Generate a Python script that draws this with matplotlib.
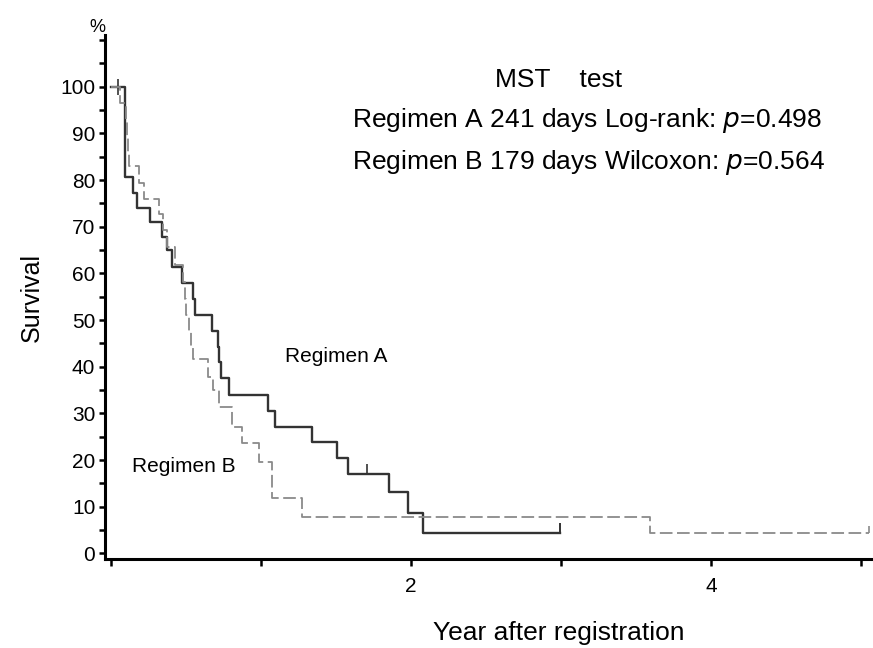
import numpy as np
import matplotlib.pyplot as plt
from matplotlib.ticker import MultipleLocator, FixedLocator

plt.rcParams['font.family'] = ['Liberation Sans', 'DejaVu Sans']

# Regimen A (solid) - time in years, survival in %
a_time = [0, 0.093, 0.149, 0.173, 0.263, 0.340, 0.371, 0.407, 0.473, 0.545,
          0.563, 0.670, 0.715, 0.723, 0.731, 0.785, 1.047, 1.090, 1.338,
          1.509, 1.577, 1.855, 1.982, 2.082, 2.993]
a_surv = [100, 80.7, 77.3, 74.1, 70.9, 67.8, 65.0, 61.3, 57.9, 54.4,
          51.0, 47.7, 44.3, 40.9, 37.5, 33.9, 30.6, 27.1, 23.8,
          20.5, 17.1, 13.2, 8.6, 4.4, 4.4]
a_cens_t = [0.049, 1.705]
a_cens_s = [100, 17.1]

# Regimen B (dashed)
b_time = [0, 0.060, 0.100, 0.107, 0.113, 0.120, 0.189, 0.220, 0.317, 0.345,
          0.370, 0.427, 0.478, 0.490, 0.500, 0.520, 0.535, 0.545, 0.649,
          0.680, 0.720, 0.804, 0.871, 0.989, 1.070, 1.274, 3.593, 5.050]
b_surv = [100, 96.4, 92.9, 89.3, 85.7, 82.9, 79.4, 75.9, 72.7, 69.3,
          65.7, 61.8, 58.2, 54.6, 51.0, 47.5, 44.3, 41.6, 37.8,
          35.0, 31.4, 27.1, 23.6, 19.6, 11.8, 7.8, 4.3, 4.3]

x_ticks = [0, 1, 2, 3, 4, 5]
x_labels = ['', '', '2', '', '4', '']
y_ticks = list(range(0, 101, 10))

fig = plt.figure(figsize=(8.73, 6.48), dpi=100)
ax = fig.add_axes([0.1203, 0.1373, 0.8797, 0.8086])

col_a = '#333333'
col_b = '#8a8a8a'

ax.step(a_time, a_surv, where='post', color=col_a, lw=1.7)
ax.plot(a_time[-1], a_surv[-1], marker=2, color=col_a, ms=7, mew=1.4)
ax.plot(a_cens_t[1], a_cens_s[1], marker=2, color=col_a, ms=7, mew=1.2)
ax.plot(a_cens_t[0], a_cens_s[0], marker='|', color=col_a, ms=11, mew=1.2)

ax.step(b_time, b_surv, where='post', color=col_b, lw=1.3, dashes=(7, 2.5))
ax.plot(b_time[-1], b_surv[-1], marker=2, color=col_b, ms=5, mew=1.2)

ax.set_xlim(-0.04, 5.08)
ax.set_ylim(-1.22, 111.06)

for s in ['top', 'right']:
    ax.spines[s].set_visible(False)
for s in ['left', 'bottom']:
    ax.spines[s].set_linewidth(2.2)

ax.xaxis.set_major_locator(FixedLocator(x_ticks))
ax.set_xticklabels(x_labels)
ax.set_yticks(y_ticks)
ax.yaxis.set_minor_locator(MultipleLocator(5))
ax.tick_params(axis='both', which='both', direction='out', length=4, width=1.8,
               labelsize=15, colors='black')
ax.tick_params(axis='x', length=5, pad=8)
ax.tick_params(axis='y', pad=3)

ax.set_ylabel('Survival', fontsize=18, labelpad=12)
fig.text(559 / 873, 1 - 633 / 648, 'Year after registration', fontsize=19,
         ha='center', va='center')
fig.text(97 / 873, 1 - 27 / 648, '%', fontsize=13, ha='center', va='center')

ax.text(2.56, 101.4, 'MST    test', fontsize=19, va='center', ha='left')
ax.text(1.607, 92.8, 'Regimen A 241 days Log-rank: $\\it{p}$=0.498', fontsize=19,
        va='center', ha='left')
ax.text(1.607, 83.8, 'Regimen B 179 days Wilcoxon: $\\it{p}$=0.564', fontsize=19,
        va='center', ha='left')

ax.text(1.16, 42.1, 'Regimen A', fontsize=15, va='center', ha='left')
ax.text(0.138, 18.6, 'Regimen B', fontsize=15, va='center', ha='left')

fig.savefig('out.png', dpi=100)
